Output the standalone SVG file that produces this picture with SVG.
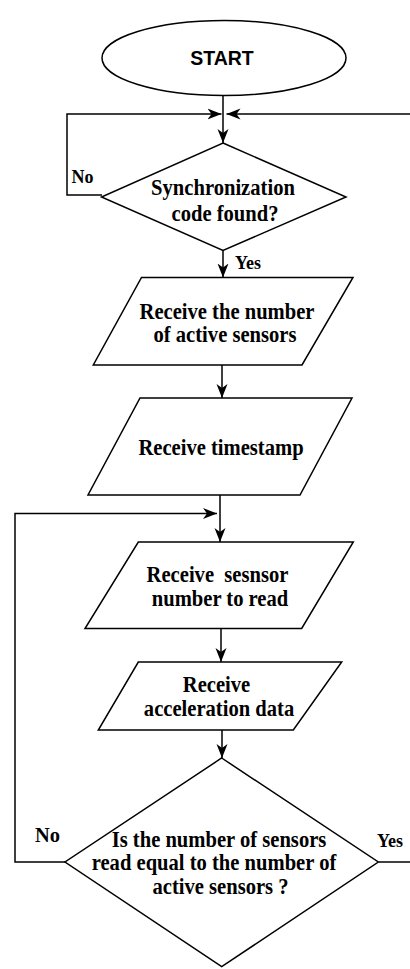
<svg xmlns="http://www.w3.org/2000/svg" width="410" height="969" viewBox="0 0 410 969">
<defs>
<style>
.shape{fill:#ffffff;stroke:#000000;stroke-width:1.5}
.conn{fill:none;stroke:#000000;stroke-width:1.5}
.t{font-family:"Liberation Serif","Times New Roman",serif;font-weight:bold;font-size:20.6px;fill:#000000;text-anchor:middle}
.lbl{font-family:"Liberation Serif","Times New Roman",serif;font-weight:bold;font-size:18px;fill:#000000}
.st{font-family:"Liberation Sans",Arial,sans-serif;font-weight:bold;font-size:19.5px;fill:#000000;text-anchor:middle}
</style>
<marker id="arr" markerUnits="userSpaceOnUse" markerWidth="15" markerHeight="12" refX="14" refY="6" orient="auto">
<path d="M0,0.5 L14,6 L0,11.5 L4,6 Z" fill="#000000"/>
</marker>
</defs>
<rect x="0" y="0" width="410" height="969" fill="#ffffff"/>
<g id="connectors">
<path class="conn" d="M223,96 V143" marker-end="url(#arr)"/>
<path class="conn" d="M102,195 H67 V114 H221.5" marker-end="url(#arr)"/>
<path class="conn" d="M410,114 H226.5" marker-end="url(#arr)"/>
<path class="conn" d="M223,250 V277.5" marker-end="url(#arr)"/>
<path class="conn" d="M222,365 V398" marker-end="url(#arr)"/>
<path class="conn" d="M220,495 V542" marker-end="url(#arr)"/>
<path class="conn" d="M65,862 H15 V513.5 H217" marker-end="url(#arr)"/>
<path class="conn" d="M221,628.5 V662" marker-end="url(#arr)"/>
<path class="conn" d="M222,730 V758" marker-end="url(#arr)"/>
<path class="conn" d="M378.5,862 H410"/>
<text class="lbl" x="71.5" y="183">No</text>
<text class="lbl" x="235" y="268.5">Yes</text>
<text class="lbl" x="35" y="842" style="font-size:20.5px">No</text>
<text class="lbl" x="377" y="847">Yes</text>
</g>
<g id="start">
<ellipse class="shape" cx="224" cy="58" rx="122" ry="37.5"/>
<text class="st" x="222" y="64.5">START</text>
</g>
<g id="sync">
<polygon class="shape" points="223,143 346,197 223,250.5 101.5,197"/>
<text class="t" transform="translate(223,195) scale(1,1.1)">Synchronization</text>
<text class="t" transform="translate(225,221) scale(1,1.1)">code found?</text>
</g>
<g id="num-sensors">
<polygon class="shape" points="141.5,277.5 353,277.5 302,365 93.3,365"/>
<text class="t" transform="translate(227,319) scale(1,1.1)">Receive the number</text>
<text class="t" transform="translate(225,342) scale(1,1.1)">of active sensors</text>
</g>
<g id="timestamp">
<polygon class="shape" points="140,398 352,398 300,495 88,495"/>
<text class="t" transform="translate(221,455) scale(1,1.1)">Receive timestamp</text>
</g>
<g id="sensor-number">
<polygon class="shape" points="138.3,542 353.3,542 301.7,628.5 85,628.5"/>
<text class="t" transform="translate(217.5,581.5) scale(1,1.1)" style="white-space:pre">Receive  sesnsor</text>
<text class="t" transform="translate(220,605.5) scale(1,1.1)">number to read</text>
</g>
<g id="accel">
<polygon class="shape" points="138.3,662 341.7,662 293.3,730 98.3,730"/>
<text class="t" transform="translate(216.5,691.5) scale(1,1.1)">Receive</text>
<text class="t" transform="translate(219,715.5) scale(1,1.1)">acceleration data</text>
</g>
<g id="check">
<polygon class="shape" points="221.7,758 378.3,862 221.7,966.7 65,862"/>
<text class="t" transform="translate(219,846.5) scale(1,1.1)">Is the number of sensors</text>
<text class="t" transform="translate(214,870) scale(1,1.1)">read equal to the number of</text>
<text class="t" transform="translate(220.5,893.5) scale(1,1.1)">active sensors ?</text>
</g>
</svg>
